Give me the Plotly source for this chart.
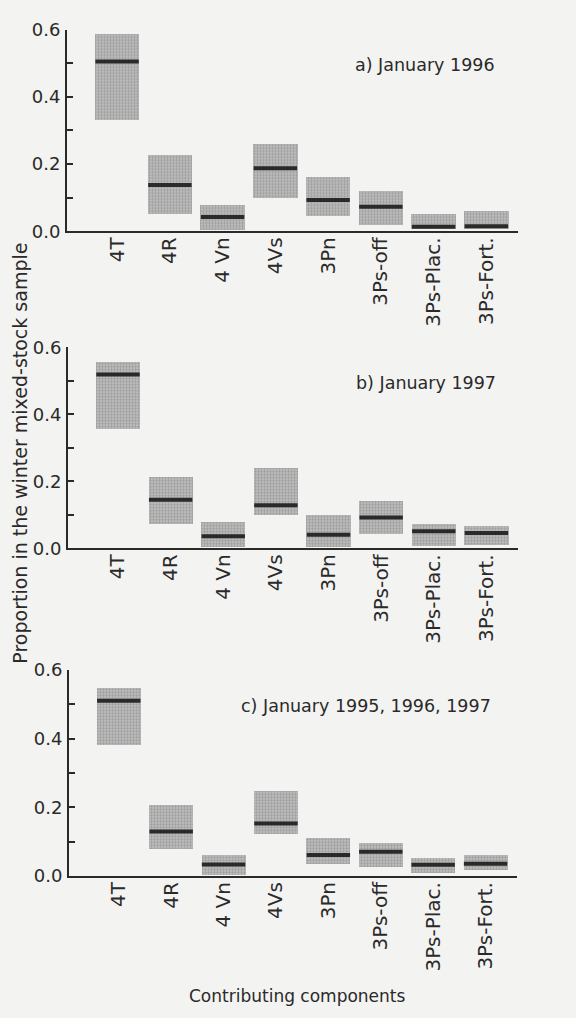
import plotly.graph_objects as go

categories = ["4T", "4R", "4 Vn", "4Vs", "3Pn", "3Ps-off", "3Ps-Plac.", "3Ps-Fort."]

# Panel a) January 1996
a_low = [0.332, 0.054, 0.004, 0.100, 0.047, 0.019, 0.008, 0.008]
a_high = [0.587, 0.227, 0.079, 0.260, 0.163, 0.122, 0.054, 0.061]
a_est = [0.505, 0.138, 0.043, 0.188, 0.093, 0.073, 0.014, 0.015]

# Panel b) January 1997
b_low = [0.356, 0.071, 0.004, 0.100, 0.004, 0.042, 0.006, 0.008]
b_high = [0.554, 0.212, 0.077, 0.238, 0.100, 0.142, 0.073, 0.067]
b_est = [0.519, 0.145, 0.036, 0.129, 0.041, 0.092, 0.051, 0.046]

# Panel c) January 1995, 1996, 1997
c_low = [0.382, 0.078, 0.005, 0.123, 0.036, 0.028, 0.009, 0.017]
c_high = [0.549, 0.207, 0.063, 0.248, 0.112, 0.098, 0.052, 0.061]
c_est = [0.510, 0.130, 0.034, 0.153, 0.061, 0.071, 0.033, 0.036]

panel_titles = ["a) January 1996", "b) January 1997", "c) January 1995, 1996, 1997"]
y_tickvals = [0.0, 0.1, 0.2, 0.3, 0.4, 0.5, 0.6]
y_ticktext = ["0.0", "", "0.2", "", "0.4", "", "0.6"]

W, H = 576, 1018
FONT = "DejaVu Sans"
INK = "#2a2a2a"

panels = [(a_low, a_high, a_est), (b_low, b_high, b_est), (c_low, c_high, c_est)]
# pixel layout (top, bottom) of each plot area
ypix = [(19, 225), (343.3, 548.7), (672.7, 883.3)]
xpix = [(67, 518), (68, 518), (69, 517)]

fig = go.Figure()
layout = {}
for i, (lo, hi, est) in enumerate(panels):
    n = "" if i == 0 else str(i + 1)
    xa, ya = "x" + n, "y" + n
    fig.add_trace(go.Bar(
        x=categories, y=[h - l for h, l in zip(hi, lo)], base=lo,
        width=0.84, xaxis=xa, yaxis=ya, showlegend=False,
        marker=dict(color="#bdbdbd",
                    pattern=dict(shape=".", fgcolor="#7a7a7a", bgcolor="#c2c2c2",
                                 size=3, solidity=0.5),
                    line=dict(width=0)),
    ))
    fig.add_trace(go.Scatter(
        x=categories, y=est, mode="markers", xaxis=xa, yaxis=ya, showlegend=False,
        marker=dict(symbol="line-ew", size=31, line=dict(width=4, color=INK)),
    ))
    t, b = ypix[i]
    l, r = xpix[i]
    layout["xaxis" + n] = dict(
        domain=[l / W, r / W], anchor=ya, type="category",
        categoryorder="array", categoryarray=categories,
        range=[-0.95, 7.6], showgrid=False, zeroline=False,
        showline=True, linecolor=INK, linewidth=2, ticks="",
        tickangle=-90, ticklabelstandoff=-4,
        tickfont=dict(family=FONT, size=20, color=INK),
    )
    layout["yaxis" + n] = dict(
        domain=[1 - b / H, 1 - t / H], anchor=xa, range=[0, 0.6],
        showgrid=False, zeroline=False, showline=True, linecolor=INK, linewidth=2,
        ticks="inside", ticklen=6, tickwidth=1.5, tickcolor=INK,
        tickvals=y_tickvals, ticktext=y_ticktext, ticklabelstandoff=1,
        tickfont=dict(family=FONT, size=18, color=INK),
    )

annotations = []
title_pos = [(0.953, 0.825), (0.955, 0.821), (0.946, 0.823)]
for i, txt in enumerate(panel_titles):
    n = "" if i == 0 else str(i + 1)
    annotations.append(dict(
        text=txt, xref="x" + n + " domain", yref="y" + n + " domain",
        x=title_pos[i][0], y=title_pos[i][1], xanchor="right", yanchor="middle",
        showarrow=False, font=dict(family=FONT, size=17.5, color=INK),
    ))
annotations.append(dict(
    text="Proportion in the winter mixed-stock sample", xref="paper", yref="paper",
    x=20 / W, y=1 - 452 / H, textangle=-90, showarrow=False,
    xanchor="center", yanchor="middle", font=dict(family=FONT, size=19, color=INK),
))
annotations.append(dict(
    text="Contributing components", xref="paper", yref="paper",
    x=297 / W, y=1 - 1006 / H, showarrow=False,
    xanchor="center", yanchor="middle", font=dict(family=FONT, size=17, color=INK),
))

fig.update_layout(
    width=W, height=H, margin=dict(l=0, r=0, t=0, b=0),
    paper_bgcolor="#f3f3f1", plot_bgcolor="rgba(0,0,0,0)",
    bargap=0, annotations=annotations, **layout,
)

fig.write_html("out.html")
